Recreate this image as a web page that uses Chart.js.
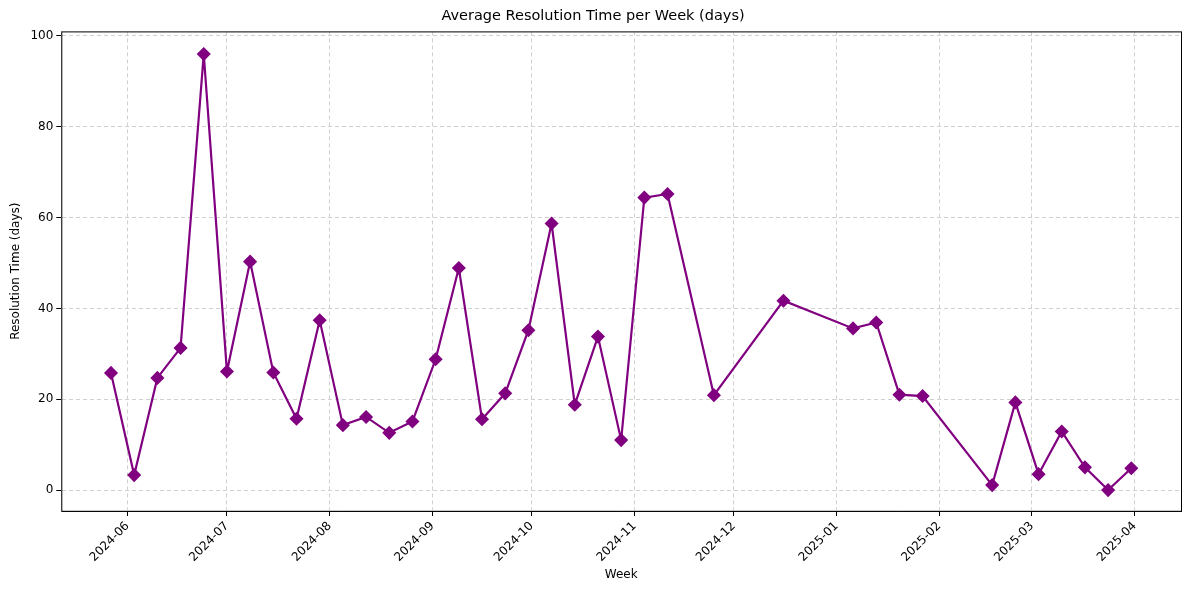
<!DOCTYPE html>
<html><head><meta charset="utf-8">
<script src="https://cdn.jsdelivr.net/npm/chart.js@4"></script>
<style>html,body{margin:0;background:#fff}#w{width:1189px;height:590px}</style>
</head><body><div id="w"><canvas id="c"></canvas></div>
<script>
const weeks=["2024-05-27","2024-06-03","2024-06-10","2024-06-17","2024-06-24","2024-07-01","2024-07-08","2024-07-15","2024-07-22","2024-07-29","2024-08-05","2024-08-12","2024-08-19","2024-08-26","2024-09-02","2024-09-09","2024-09-16","2024-09-23","2024-09-30","2024-10-07","2024-10-14","2024-10-21","2024-10-28","2024-11-04","2024-11-11","2024-11-25","2024-12-16","2025-01-06","2025-01-13","2025-01-20","2025-01-27","2025-02-17","2025-02-24","2025-03-03","2025-03-10","2025-03-17","2025-03-24","2025-03-31"];
const resolutionDays=[25.8,3.3,24.7,31.3,96,26.1,50.3,25.9,15.7,37.4,14.3,16.1,12.6,15.1,28.8,48.9,15.6,21.3,35.2,58.7,18.8,33.8,11.0,64.4,65.2,20.9,41.7,35.6,36.9,21.0,20.7,1.1,19.3,3.5,12.9,5.0,0.0,4.8];
const monthTicks=["2024-06","2024-07","2024-08","2024-09","2024-10","2024-11","2024-12","2025-01","2025-02","2025-03","2025-04"];
const dayNum=s=>{const p=s.split("-").map(Number);return Date.UTC(p[0],p[1]-1,p[2]||1)/86400000;};
const tickMap={};monthTicks.forEach(m=>tickMap[dayNum(m)]=m);
const grid={color:'#d0d0d0',drawTicks:true,tickColor:'#000',tickLength:5};
const border={color:'#d0d0d0',dash:[4,3]};
const box={id:'box',afterDraw(c){const a=c.chartArea,x=c.ctx;x.save();x.strokeStyle='#000';x.lineWidth=1;x.strokeRect(a.left+0.5,a.top+0.5,a.right-a.left,a.bottom-a.top);x.restore();}};
new Chart(document.getElementById('c'),{type:'line',plugins:[box],
data:{datasets:[{data:weeks.map((w,i)=>({x:dayNum(w),y:resolutionDays[i]})),borderColor:'#800080',backgroundColor:'#800080',borderWidth:2.2,pointStyle:'rectRot',pointRadius:5.5,pointHoverRadius:5.5,tension:0}]},
options:{animation:false,responsive:true,maintainAspectRatio:false,
layout:{padding:{left:5,right:8,top:6,bottom:8}},
plugins:{legend:{display:false},title:{display:true,text:'Average Resolution Time per Week (days)',color:'#000',font:{family:'DejaVu Sans',size:14.5,weight:'normal'},padding:{top:2,bottom:6}}},
scales:{x:{type:'linear',min:dayNum("2024-05-12"),max:dayNum("2025-04-15"),
afterBuildTicks:a=>{a.ticks=monthTicks.map(m=>({value:dayNum(m)}));},
ticks:{autoSkip:false,maxRotation:45,minRotation:45,color:'#000',font:{family:'DejaVu Sans',size:12},callback:v=>tickMap[v]||''},
grid:grid,border:border,title:{display:true,text:'Week',color:'#000',font:{family:'DejaVu Sans',size:12},padding:0}},
y:{min:-4.6,max:101,afterBuildTicks:a=>{a.ticks=[0,20,40,60,80,100].map(v=>({value:v}));},
ticks:{color:'#000',font:{family:'DejaVu Sans',size:12}},grid:grid,border:border,
title:{display:true,text:'Resolution Time (days)',color:'#000',font:{family:'DejaVu Sans',size:12},padding:4}}}}});
</script></body></html>
